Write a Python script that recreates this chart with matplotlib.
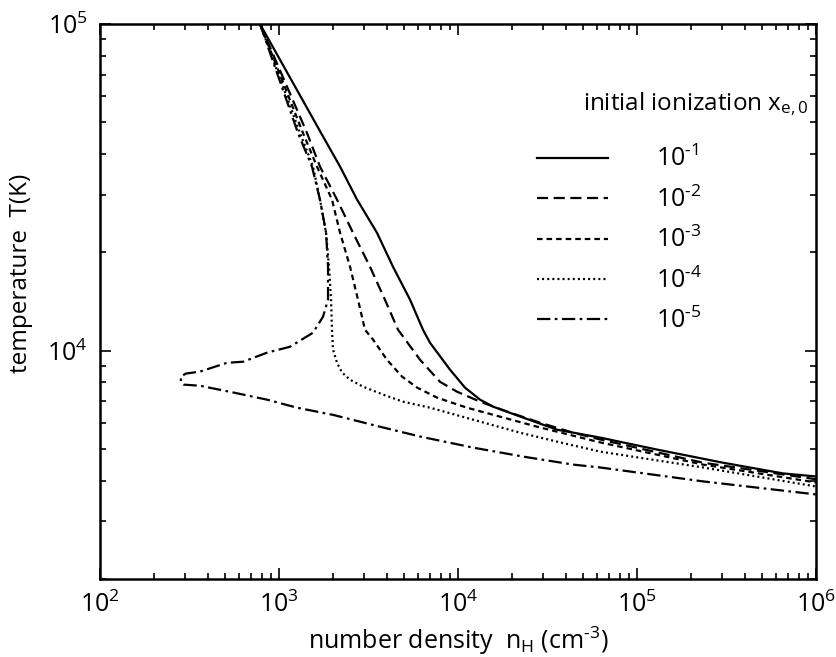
import numpy as np
import matplotlib
matplotlib.use('Agg')
import matplotlib.pyplot as plt

plt.rcParams['font.family'] = ['Open Sans', 'DejaVu Sans']
plt.rcParams['mathtext.fontset'] = 'custom'
plt.rcParams['mathtext.rm'] = 'Open Sans'
plt.rcParams['mathtext.it'] = 'Open Sans:italic'
plt.rcParams['mathtext.default'] = 'regular'

# data (number density n_H, temperature T)
n_1 = [783, 1717, 2193, 2730, 3526, 4333, 5397, 6374, 6979, 9020, 10930,
       13280, 15700, 23080, 35700, 62100, 129400, 302000, 654000, 1e6]
T_1 = [100000, 46400, 36600, 29000, 22960, 18070, 14320, 11590, 10570, 8750,
       7710, 7080, 6740, 6240, 5730, 5420, 4980, 4540, 4210, 4120]

n_2 = [783, 1433, 1694, 2109, 2590, 3223, 3907, 4624, 6136, 7935, 9870,
       13280, 18800, 28700, 43900, 62100, 233700, 1e6]
T_2 = [100000, 46400, 36600, 29000, 22960, 18070, 14320, 11590, 9380, 8030,
       7490, 6980, 6510, 6020, 5610, 5350, 4540, 4040]

n_3 = [783, 1361, 1630, 1977, 2193, 2494, 2763, 3022, 3351, 4008, 4867,
       5907, 7640, 11220, 17180, 28700, 62100, 233700, 1e6]
T_3 = [100000, 46400, 36600, 29000, 22960, 18070, 14320, 11590, 10820, 9380,
       8330, 7710, 7180, 6690, 6280, 5820, 5240, 4480, 3950]

n_4 = [783, 1310, 1549, 1694, 1832, 1902, 1953, 1977, 2004, 2109, 2250,
       2494, 2946, 3808, 4931, 6979, 12120, 22200, 37100, 62100, 233700, 1e6]
T_4 = [100000, 46400, 36600, 29000, 22960, 18070, 14320, 11590, 10070, 9180,
       8570, 8150, 7760, 7340, 6980, 6690, 6150, 5610, 5240, 4910, 4390, 3840]

n_5 = [783, 1276, 1528, 1694, 1832, 1879, 1879, 1762, 1549, 1152, 857, 630,
       512, 362, 302, 283, 283, 294, 362, 553, 857, 1261, 2004, 3808, 6136,
       12120, 23080, 43900, 62100, 233700, 1e6]
T_5 = [100000, 46400, 36600, 29000, 22960, 18070, 14320, 12710, 11350, 10280,
       9860, 9250, 9180, 8630, 8510, 8330, 8030, 7870, 7810, 7450, 7080, 6690,
       6360, 5820, 5460, 5050, 4740, 4480, 4390, 3980, 3630]

# hyphen instead of the long math minus, like the original
labels = ['$10^{\u20101}$', '$10^{\u20102}$', '$10^{\u20103}$',
          '$10^{\u20104}$', '$10^{\u20105}$']

fig = plt.figure(figsize=(8.37, 6.57), dpi=100)
ax = fig.add_axes([100/837, 78/657, 716/837, 555/657])

lw = 1.6
ax.plot(n_1, T_1, color='k', lw=lw, ls='-', label=labels[0])
ax.plot(n_2, T_2, color='k', lw=lw, ls=(0, (5, 2.5)), label=labels[1])
ax.plot(n_3, T_3, color='k', lw=lw, ls=(0, (2.5, 1.8)), label=labels[2])
ax.plot(n_4, T_4, color='k', lw=lw, ls=(0, (0.9, 1.4)), label=labels[3])
ax.plot(n_5, T_5, color='k', lw=lw, ls=(0, (6, 2, 1.2, 2)), label=labels[4])

ax.set_xscale('log')
ax.set_yscale('log')
ax.set_xlim(1e2, 1e6)
ax.set_ylim(2e3, 1e5)

for s in ax.spines.values():
    s.set_linewidth(1.8)
ax.tick_params(which='both', direction='in', top=True, right=True, width=1.2)
ax.tick_params(which='major', length=8, labelsize=18, pad=9)
ax.tick_params(which='minor', length=4.5)
ax.yaxis.set_minor_formatter(matplotlib.ticker.NullFormatter())

ax.set_xlabel('number density  n$_{\\mathrm{H}}$ (cm$^{\u20103}$)', fontsize=18)
ax.set_ylabel('temperature  T(K)', fontsize=17.5)
ax.xaxis.set_label_coords(0.5, -0.082)
ax.yaxis.set_label_coords(-0.094, 0.55)

ax.text(0.675, 0.855, 'initial ionization x$_{e,0}$', transform=ax.transAxes,
        fontsize=17.5, va='center', ha='left')
leg = ax.legend(loc='upper left', bbox_to_anchor=(0.61, 0.78), frameon=False,
                fontsize=18, handlelength=2.85, handletextpad=1.9,
                labelspacing=0.56, borderaxespad=0, borderpad=0)

fig.savefig('out.png', dpi=100)
